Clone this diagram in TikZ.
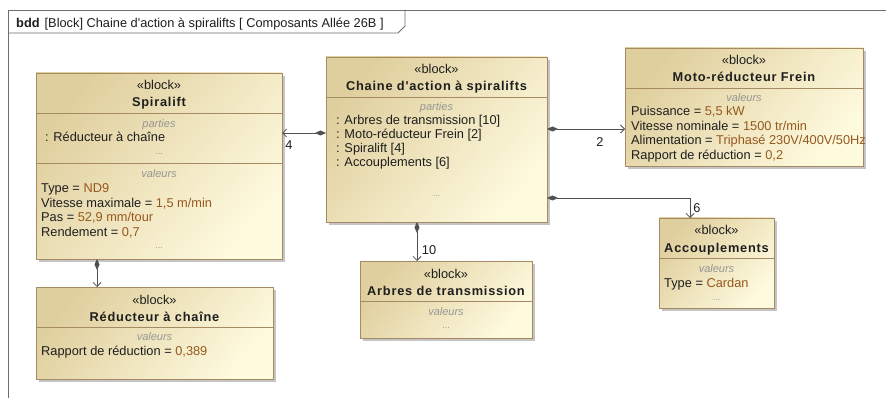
\documentclass[tikz,border=0pt]{standalone}
\usepackage{fontspec}
\setmainfont{Liberation Sans}[Ligatures=TeXOff]
\newfontfamily\titlefam{Liberation Sans}[LetterSpace=6, Ligatures=TeXOff]
\usetikzlibrary{arrows.meta,calc,shadows}

\definecolor{blkA}{RGB}{224,207,158}
\definecolor{blkB}{RGB}{254,250,222}
\definecolor{blkLine}{RGB}{166,138,100}
\definecolor{valCol}{RGB}{150,88,30}
\definecolor{lblGray}{RGB}{150,150,150}
\definecolor{wireCol}{RGB}{80,80,80}
\definecolor{frameCol}{RGB}{110,110,110}
\definecolor{txt}{RGB}{30,30,30}

\newcommand\vv[1]{\textcolor{valCol}{#1}}

\tikzset{
  blockbox/.style={draw=blkLine, line width=0.9pt, anchor=north west,
    inner sep=0pt, outer sep=0pt, top color=blkA, bottom color=blkB,
    shading angle=50,
    drop shadow={shadow xshift=3pt, shadow yshift=-3pt, fill=black!45, opacity=0.5}},
  stereo/.style={anchor=base, inner sep=0pt, text=txt},
  btitle/.style={anchor=base, inner sep=0pt, text=txt,
    font=\titlefam\bfseries\fontsize{12.8}{15}\selectfont},
  divline/.style={draw=blkLine, line width=0.9pt},
  sect/.style={anchor=base, inner sep=0pt, text=lblGray,
    font=\itshape\fontsize{11}{13}\selectfont},
  more/.style={anchor=base, inner sep=0pt, text=lblGray,
    font=\fontsize{9}{11}\selectfont},
  item/.style={anchor=base west, inner sep=0pt, text=txt},
  comp/.style={draw=wireCol, line width=0.8pt,
    {Diamond[length=11pt,width=5pt]}-{Straight Barb[length=4pt,width=8pt]}},
  mult/.style={inner sep=0pt, text=txt},
  frame/.style={draw=frameCol, line width=0.8pt},
}

% block: name, left, top, width, height, title
\newcommand\mkblock[6]{%
  \node[blockbox, minimum width=#4pt, minimum height=#5pt] (#1) at (#2,#3) {};
  \node[stereo] (#1-st) at ($(#1.north)+(0,17)$) {«block»};
  \node[btitle] (#1-tt) at ($(#1.north)+(0,34)$) {#6};
  \draw[divline] ($(#1.north west)+(0,40)$) -- ($(#1.north east)+(0,40)$);
}

\begin{document}
\begin{tikzpicture}[x=1pt, y=-1pt, font=\fontsize{12.8}{15}\selectfont]
\fill[white] (0,0) rectangle (886,398);
\path[use as bounding box] (0,0) rectangle (886,398);

% diagram frame and its name tab
\draw[frame] (8,420) -- (8,10) -- (900,10);
\draw[frame] (8,33) -- (398,33) -- (405,26) -- (405,10);
\node[anchor=base west, inner sep=0pt, text=txt] (hdr) at (16,28)
  {\textbf{bdd}\hspace{5pt}[Block] Chaine d'action à spiralifts [ Composants Allée 26B ]};

% Spiralift
\mkblock{spir}{36}{73}{246}{186}{Spiralift}
\draw[divline] ($(spir.north west)+(0,90)$) -- ($(spir.north east)+(0,90)$);
\node[sect] (spir-p) at ($(spir.north)+(0,55)$) {parties};
\node[item] (spir-p1) at ($(spir.north west)+(9,69)$) {: Réducteur à chaîne};
\node[more] (spir-pm) at ($(spir.north)+(0,82)$) {...};
\node[sect] (spir-v) at ($(spir.north)+(0,105)$) {valeurs};
\node[item] (spir-v1) at ($(spir.north west)+(5,120)$) {Type = \vv{ND9}};
\node[item] (spir-v2) at ($(spir.north west)+(5,134.5)$) {Vitesse maximale = \vv{1,5 m/min}};
\node[item] (spir-v3) at ($(spir.north west)+(5,149)$) {Pas = \vv{52,9 mm/tour}};
\node[item] (spir-v4) at ($(spir.north west)+(5,163.5)$) {Rendement = \vv{0,7}};
\node[more] (spir-vm) at ($(spir.north)+(0,175)$) {...};

% Chaine d'action
\mkblock{chaine}{326}{57}{221}{165}{Chaine d'action à spiralifts}
\node[sect] (chaine-p) at ($(chaine.north)+(0,54)$) {parties};
\node[item] (chaine-p1) at ($(chaine.north west)+(10,68)$) {: Arbres de transmission [10]};
\node[item] (chaine-p2) at ($(chaine.north west)+(10,82)$) {: Moto-réducteur Frein [2]};
\node[item] (chaine-p3) at ($(chaine.north west)+(10,96)$) {: Spiralift [4]};
\node[item] (chaine-p4) at ($(chaine.north west)+(10,110)$) {: Accouplements [6]};
\node[more] (chaine-pm) at ($(chaine.north)+(0,140)$) {...};

% Moto-reducteur
\mkblock{moto}{625}{48}{238}{118}{Moto-réducteur Frein}
\node[sect] (moto-v) at ($(moto.north)+(0,54)$) {valeurs};
\node[item] (moto-v1) at ($(moto.north west)+(6,68)$) {Puissance = \vv{5,5 kW}};
\node[item] (moto-v2) at ($(moto.north west)+(6,82.5)$) {Vitesse nominale = \vv{1500 tr/min}};
\node[item] (moto-v3) at ($(moto.north west)+(6,97)$) {Alimentation = \vv{Triphasé 230V/400V/50Hz}};
\node[item] (moto-v4) at ($(moto.north west)+(6,111.5)$) {Rapport de réduction = \vv{0,2}};

% Reducteur a chaine
\mkblock{red}{36}{287}{237}{92}{Réducteur à chaîne}
\node[sect] (red-v) at ($(red.north)+(0,53)$) {valeurs};
\node[item] (red-v1) at ($(red.north west)+(5,68)$) {Rapport de réduction = \vv{0,389}};

% Arbres de transmission
\mkblock{arb}{360}{261}{172}{77}{Arbres de transmission}
\node[sect] (arb-v) at ($(arb.north)+(0,54)$) {valeurs};
\node[more] (arb-vm) at ($(arb.north)+(0,67)$) {...};

% Accouplements
\mkblock{acc}{659}{218}{115}{90}{Accouplements}
\node[sect] (acc-v) at ($(acc.north)+(0,54)$) {valeurs};
\node[item] (acc-v1) at ($(acc.north west)+(5,69)$) {Type = \vv{Cardan}};
\node[more] (acc-vm) at ($(acc.north)+(0,82)$) {...};

% composition links
\draw[comp] (chaine.west |- 0,133) -- (spir.east |- 0,133);
\node[mult] (m4) at (289,145) {4};
\draw[comp] (chaine.east |- 0,129) -- (moto.west |- 0,129);
\node[mult] (m2) at (600,142) {2};
\draw[comp] (chaine.east |- 0,198) -| (acc.north -| 690,0);
\node[mult] (m6) at (697,208) {6};
\draw[comp] (chaine.south -| 417,0) -- (arb.north -| 417,0);
\node[mult] (m10) at (429,250) {10};
\draw[comp] (spir.south -| 97,0) -- (red.north -| 97,0);
\end{tikzpicture}
\end{document}
